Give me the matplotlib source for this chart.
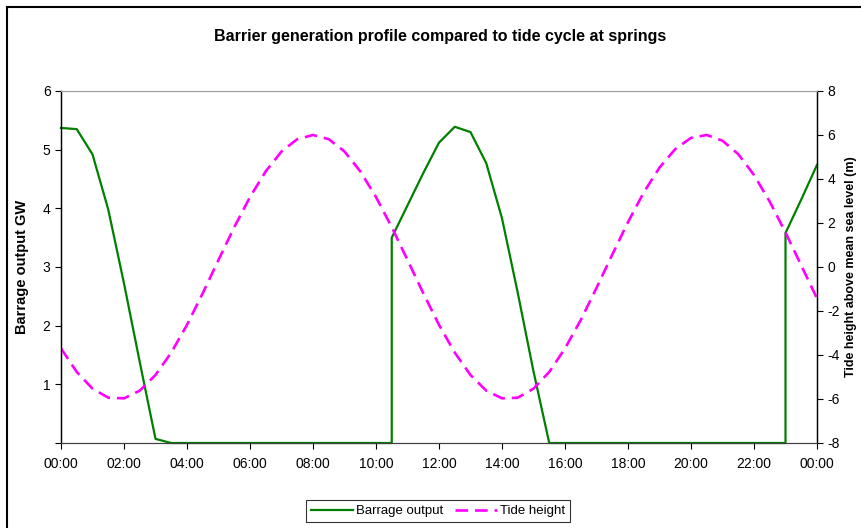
import matplotlib.pyplot as plt
from matplotlib.patches import Rectangle

plt.rcParams['font.family'] = ['Liberation Sans', 'DejaVu Sans']
plt.rcParams['axes.unicode_minus'] = False

# time in hours, every half hour
hours = [i * 0.5 for i in range(49)]

# barrage output (GW); the sluice/turbine start gives vertical jumps at 10:30 and 23:00
barrage_t = [0, 0.5, 1, 1.5, 2, 2.5, 3, 3.5, 4, 5, 6, 7, 8, 9, 10, 10.5,
             10.5, 11, 11.5, 12, 12.5, 13, 13.5, 14, 14.5, 15, 15.5, 16, 17, 18,
             19, 20, 21, 22, 23, 23, 23.5, 24]
barrage_gw = [5.37, 5.35, 4.92, 3.98, 2.72, 1.38, 0.07, 0, 0, 0, 0, 0, 0, 0, 0, 0,
              3.50, 4.05, 4.60, 5.12, 5.39, 5.30, 4.77, 3.83, 2.56, 1.22, 0, 0, 0, 0,
              0, 0, 0, 0, 0, 3.58, 4.15, 4.74]

# tide height above mean sea level (m)
tide_m = [-3.70, -4.77, -5.53, -5.94, -5.97, -5.62, -4.91, -3.89, -2.63, -1.19,
          0.32, 1.81, 3.18, 4.35, 5.25, 5.81, 6.00, 5.81, 5.25, 4.35,
          3.18, 1.81, 0.32, -1.19, -2.63, -3.89, -4.91, -5.62, -5.97, -5.94,
          -5.53, -4.77, -3.70, -2.41, -0.95, 0.56, 2.04, 3.39, 4.52, 5.36,
          5.87, 6.00, 5.74, 5.13, 4.18, 2.97, 1.57, 0.07, -1.43]

xticks = list(range(0, 25, 2))
xlabels = ['00:00', '02:00', '04:00', '06:00', '08:00', '10:00', '12:00',
           '14:00', '16:00', '18:00', '20:00', '22:00', '00:00']

fig = plt.figure(figsize=(8.61, 5.28), dpi=100)
fig.patches.append(Rectangle((7 / 861, -0.1), 1.2, 1.1 - 7 / 528,
                             transform=fig.transFigure, fill=False,
                             edgecolor='black', linewidth=1.5))

ax = fig.add_axes([61 / 861, 1 - 443 / 528, (817 - 61) / 861, (443 - 91) / 528])
ax2 = ax.twinx()

green = '#008000'
magenta = '#FF00FF'

l1, = ax.plot(barrage_t, barrage_gw, color=green, lw=1.6, clip_on=False,
              label='Barrage output')
l2, = ax2.plot(hours, tide_m, color=magenta, lw=1.9, dashes=(4.8, 2.6),
               label='Tide height')

ax.set_xlim(0, 24)
ax.set_ylim(0, 6)
ax2.set_ylim(-8, 8)
ax.set_xticks(xticks)
ax.set_xticklabels(xlabels)
ax.set_yticks(range(0, 7))
ax.set_yticklabels([''] + [str(v) for v in range(1, 7)])
ax2.set_yticks(range(-8, 9, 2))

for a in (ax, ax2):
    a.tick_params(labelsize=10, length=4, width=0.8, colors='black')
    a.spines['top'].set_color('#a0a0a0')
    a.spines['bottom'].set_color('#404040')
    a.spines['left'].set_linewidth(0.9)
    a.spines['right'].set_linewidth(0.9)
ax.tick_params(axis='x', pad=6)

ax.set_ylabel('Barrage output GW', fontsize=10.5, fontweight='bold', labelpad=10)
ax2.set_ylabel('Tide height above mean sea level (m)', fontsize=9,
               fontweight='bold', labelpad=4)

fig.text(440 / 861, 1 - 37 / 528,
         'Barrier generation profile compared to tide cycle at springs',
         ha='center', va='center', fontsize=11.5, fontweight='bold')

leg = fig.legend(handles=[l1, l2], loc='center', ncol=2,
                 bbox_to_anchor=(438 / 861, 1 - 511 / 528), fontsize=9.5,
                 frameon=True, fancybox=False, handlelength=3.2,
                 handletextpad=0.2, columnspacing=0.9, borderpad=0.4)
leg.get_frame().set_edgecolor('black')
leg.get_frame().set_linewidth(0.8)

fig.savefig('out.png', dpi=100)
